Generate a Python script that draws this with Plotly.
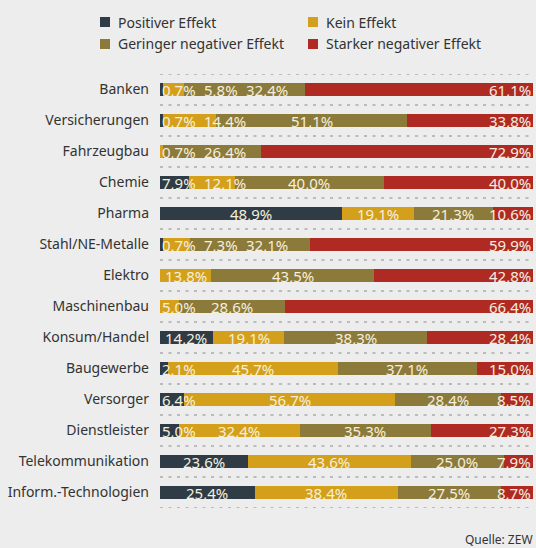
import plotly.graph_objects as go

categories = ["Banken", "Versicherungen", "Fahrzeugbau", "Chemie", "Pharma",
              "Stahl/NE-Metalle", "Elektro", "Maschinenbau", "Konsum/Handel",
              "Baugewerbe", "Versorger", "Dienstleister", "Telekommunikation",
              "Inform.-Technologien"]
positiv = [0.7, 0.7, 0.0, 7.9, 48.9, 0.7, 0.0, 0.0, 14.2, 2.1, 6.4, 5.0, 23.6, 25.4]
kein = [5.8, 14.4, 0.7, 12.1, 19.1, 7.3, 13.8, 5.0, 19.1, 45.7, 56.7, 32.4, 43.6, 38.4]
gering = [32.4, 51.1, 26.4, 40.0, 21.3, 32.1, 43.5, 28.6, 38.3, 37.1, 28.4, 35.3, 25.0, 27.5]
stark = [61.1, 33.8, 72.9, 40.0, 10.6, 59.9, 42.8, 66.4, 28.4, 15.0, 8.5, 27.3, 7.9, 8.7]
series_names = ["Positiver Effekt", "Kein Effekt", "Geringer negativer Effekt", "Starker negativer Effekt"]
series_values = [positiv, kein, gering, stark]
colors = ["#2f3c45", "#d4a01b", "#8c7a3a", "#b02a24"]

BG = "#ecedec"
FONT = "Noto Sans"
VSIZE = 15
W, H = 536, 548
ML, MR, MT, MB = 160, 3, 74, 40
PW = W - ML - MR
PH = H - MT - MB


def px2x(px):
    return (px - ML) / PW


def py2y(py):
    return (H - MB - py) / PH


def fmt(v):
    return f"{v:.1f}%".replace(".", ",")


def text_w(s, size=VSIZE):
    em = {",": 0.26, "%": 0.85, ".": 0.26}
    return sum(em.get(c, 0.572) for c in s) * size


fig = go.Figure()
for name, vals, col in zip(series_names, series_values, colors):
    fig.add_trace(go.Bar(
        y=categories, x=vals, orientation="h", name=name,
        marker=dict(color=col, line=dict(width=0)),
        width=0.45, showlegend=False, hoverinfo="x+y+name"))

# value labels with simple collision avoidance (pixel space -> data units)
scale = PW / 100.0
gap = 8
annotations = []
for r, cat in enumerate(categories):
    segs = []
    start = 0.0
    for vals in series_values:
        v = vals[r]
        if v > 0:
            segs.append((start, v))
        start += v
    n = len(segs)
    items = []
    for i, (s0, v) in enumerate(segs):
        t = fmt(v)
        w = text_w(t)
        if i == n - 1:
            c = PW - 2 - w / 2
        else:
            c = (s0 + v / 2) * scale
        c = max(c, 2 + w / 2)
        items.append([c, w, t])
    for i in range(1, n):
        mn = items[i - 1][0] + (items[i - 1][1] + items[i][1]) / 2 + gap
        if items[i][0] < mn:
            items[i][0] = mn
    items[-1][0] = min(items[-1][0], PW - 2 - items[-1][1] / 2)
    for i in range(n - 2, -1, -1):
        mx = items[i + 1][0] - (items[i + 1][1] + items[i][1]) / 2 - gap
        if items[i][0] > mx:
            items[i][0] = mx
    for c, w, t in items:
        annotations.append(dict(
            x=c / scale, y=cat, xref="x", yref="y", text=t, showarrow=False,
            xanchor="center", yanchor="middle",
            font=dict(family=FONT, size=VSIZE, color="#f4efdf")))

shapes = []
# dotted separators
for i in range(len(categories) + 1):
    shapes.append(dict(type="line", xref="paper", yref="y", x0=0, x1=1,
                       y0=i - 0.5, y1=i - 0.5,
                       line=dict(color="#a9abab", width=1.5, dash="3px,5.5px"),
                       layer="below"))

# manual legend (two columns)
leg_pos = [(100, 22), (308, 22), (100, 44), (308, 44)]
for (lx, ly), name, col in zip(leg_pos, series_names, colors):
    shapes.append(dict(type="rect", xref="paper", yref="paper",
                       x0=px2x(lx), x1=px2x(lx + 10), y0=py2y(ly + 5), y1=py2y(ly - 5),
                       fillcolor=col, line=dict(width=0)))
    annotations.append(dict(x=px2x(lx + 16), y=py2y(ly), xref="paper", yref="paper",
                            text=name, showarrow=False, xanchor="left", yanchor="middle",
                            font=dict(family=FONT, size=14, color="#333333")))

annotations.append(dict(x=px2x(535), y=py2y(539), xref="paper", yref="paper",
                        text="Quelle: ZEW", showarrow=False, xanchor="right", yanchor="middle",
                        font=dict(family=FONT, size=12, color="#333333")))

fig.update_layout(
    width=W, height=H, barmode="stack", bargap=0.55,
    paper_bgcolor=BG, plot_bgcolor=BG,
    margin=dict(l=ML, r=MR, t=MT, b=MB, pad=0),
    font=dict(family=FONT, size=14, color="#333333"),
    xaxis=dict(range=[0, 100], visible=False, fixedrange=True),
    yaxis=dict(categoryorder="array", categoryarray=categories,
               range=[len(categories) - 0.5, -0.5], showgrid=False, zeroline=False,
               showline=False, ticks="", ticklabelstandoff=10, fixedrange=True,
               tickfont=dict(family=FONT, size=14, color="#333333")),
    shapes=shapes, annotations=annotations, showlegend=False,
)

fig.write_html("out.html",
               config={"displayModeBar": False},
               post_script="document.body.style.margin='0';"
                           "document.body.style.overflow='hidden';"
                           "document.body.style.background='" + BG + "';")
